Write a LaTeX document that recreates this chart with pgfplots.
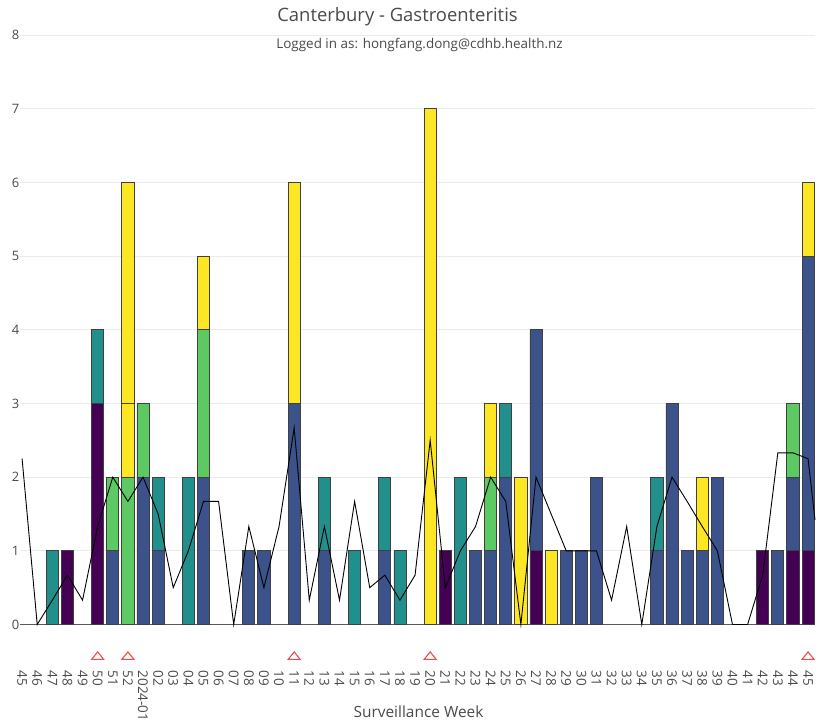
\documentclass[border=0pt]{standalone}
\usepackage{fontspec}
\setmainfont{Open Sans}
\usepackage{pgfplots}
\usepackage{pgfplotstable}
\pgfplotsset{compat=1.18}

\definecolor{vpurple}{HTML}{440154}
\definecolor{vblue}{HTML}{3B528B}
\definecolor{vteal}{HTML}{21908D}
\definecolor{vgreen}{HTML}{5DC963}
\definecolor{vyellow}{HTML}{FDE725}
\definecolor{txt}{HTML}{4A4A4A}
\definecolor{gridc}{HTML}{EBEBEB}
\definecolor{alertred}{HTML}{F24A4A}

% weekly counts by group, index 0 = 2023 week 45 ... 52 = 2024 week 45
\pgfplotstableread{
x  purple blue teal green yellow yellowb
0  0 0 0 0 0 0
1  0 0 0 0 0 0
2  0 0 1 0 0 0
3  1 0 0 0 0 0
4  0 0 0 0 0 0
5  3 0 1 0 0 0
6  0 1 0 1 0 0
7  0 0 0 2 1 3
8  0 2 0 1 0 0
9  0 1 1 0 0 0
10 0 0 0 0 0 0
11 0 0 2 0 0 0
12 0 2 0 2 1 0
13 0 0 0 0 0 0
14 0 0 0 0 0 0
15 0 1 0 0 0 0
16 0 1 0 0 0 0
17 0 0 0 0 0 0
18 0 3 0 0 3 0
19 0 0 0 0 0 0
20 0 1 1 0 0 0
21 0 0 0 0 0 0
22 0 0 1 0 0 0
23 0 0 0 0 0 0
24 0 1 1 0 0 0
25 0 0 1 0 0 0
26 0 0 0 0 0 0
27 0 0 0 0 7 0
28 1 0 0 0 0 0
29 0 0 2 0 0 0
30 0 1 0 0 0 0
31 0 1 0 1 1 0
32 0 2 1 0 0 0
33 0 0 0 0 2 0
34 1 3 0 0 0 0
35 0 0 0 0 1 0
36 0 1 0 0 0 0
37 0 1 0 0 0 0
38 0 2 0 0 0 0
39 0 0 0 0 0 0
40 0 0 0 0 0 0
41 0 0 0 0 0 0
42 0 1 1 0 0 0
43 0 3 0 0 0 0
44 0 1 0 0 0 0
45 0 1 0 0 1 0
46 0 2 0 0 0 0
47 0 0 0 0 0 0
48 0 0 0 0 0 0
49 1 0 0 0 0 0
50 0 1 0 0 0 0
51 1 1 0 1 0 0
52 1 4 0 0 1 0
}\cases

% smoothed line
\pgfplotstableread{
x avg
0 2.25
1 0
2 0.33
3 0.67
4 0.33
5 1.33
6 2
7 1.67
8 2
9 1.5
10 0.5
11 1
12 1.67
13 1.67
14 0
15 1.33
16 0.5
17 1.33
18 2.67
19 0.33
20 1.33
21 0.33
22 1.67
23 0.5
24 0.67
25 0.33
26 0.67
27 2.5
28 0.5
29 1
30 1.33
31 2
32 1.67
33 0
34 2
35 1.5
36 1
37 1
38 1
39 0.33
40 1.33
41 0
42 1.33
43 2
44 1.67
45 1.33
46 1
47 0
48 0
49 0.67
50 2.33
51 2.33
52 2.25
52.46 1.42
}\avg

\pgfplotsset{
  base/.style={
    scale only axis, width=794.5bp, height=589.5bp,
    xmin=-0.106, xmax=52.46, ymin=0, ymax=8,
  },
  seg/.style={draw=black!75, line width=0.8bp, fill=#1},
}

\begin{document}
\begin{tikzpicture}
\path (-20.5bp,-101.5bp) rectangle (795.5bp,624.5bp);
\begin{axis}[
  base,
  ybar stacked, bar width=0.8,
  axis line style={draw=none},
  major tick length=0pt,
  ytick={0,...,8},
  ymajorgrids, major grid style={gridc, line width=0.8bp},
  extra y ticks={0}, extra y tick labels={},
  extra y tick style={major grid style={black!65, line width=1bp}},
  xtick={0,...,52},
  xticklabels={45,46,47,48,49,50,51,52,2024-01,02,03,04,05,06,07,08,09,10,11,12,13,14,15,16,17,18,19,20,21,22,23,24,25,26,27,28,29,30,31,32,33,34,35,36,37,38,39,40,41,42,43,44,45},
  xticklabel style={rotate=-90, anchor=west, inner sep=0pt, text=txt,
    font=\fontsize{13.5}{13.5}\selectfont},
  xticklabel shift=46bp,
  yticklabel style={anchor=east, inner sep=1bp, text=txt,
    font=\fontsize{13}{13}\selectfont},
  /pgf/number format/assume math mode=true,
]
\addplot[seg=vpurple] table[x=x, y=purple] {\cases};
\addplot[seg=vblue] table[x=x, y=blue] {\cases};
\addplot[seg=vteal] table[x=x, y=teal] {\cases};
\addplot[seg=vgreen] table[x=x, y=green] {\cases};
\addplot[seg=vyellow] table[x=x, y=yellow] {\cases};
\addplot[seg=vyellow] table[x=x, y=yellowb] {\cases};
\end{axis}
\begin{axis}[base, hide axis, clip=false]
\addplot[black, line width=0.9bp, mark=none] table[x=x, y=avg] {\avg};
\addplot[only marks, mark=triangle, mark size=7bp,
  mark options={draw=alertred, line width=1.1bp, yscale=0.72}]
  coordinates {(5,-0.44) (7,-0.44) (18,-0.44) (27,-0.44) (52,-0.44)};
\end{axis}
\node[text=txt, font=\fontsize{18.5}{18.5}\selectfont] at (377bp,607.5bp) {Canterbury - Gastroenteritis};
\node[text=txt, font=\fontsize{13.5}{13.5}\selectfont] at (399bp,579.5bp) {Logged in as: hongfang.dong@cdhb.health.nz};
\node[text=txt, font=\fontsize{15.5}{15.5}\selectfont] at (398bp,-87.5bp) {Surveillance Week};
\end{tikzpicture}
\end{document}
